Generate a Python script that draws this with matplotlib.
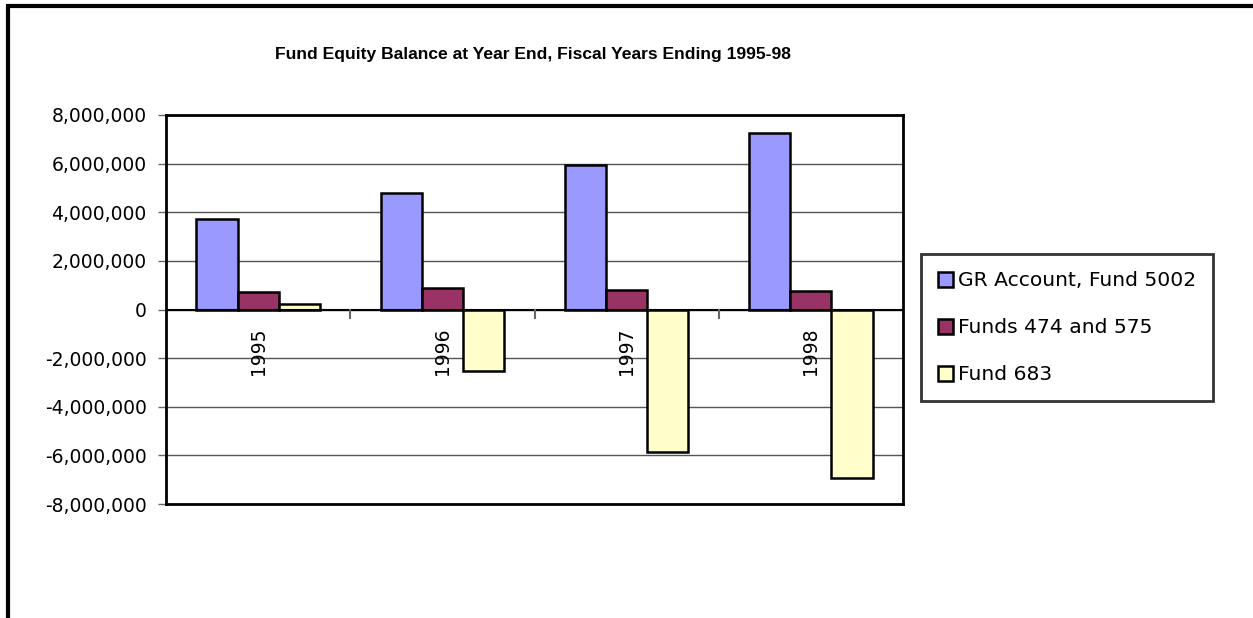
import numpy as np
import matplotlib; matplotlib.use("Agg")
import matplotlib.pyplot as plt
from matplotlib.patches import Rectangle, Patch

years = ["1995", "1996", "1997", "1998"]
gr_5002 = [3710000, 4800000, 5950000, 7240000]
funds_474_575 = [700000, 870000, 820000, 780000]
fund_683 = [220000, -2520000, -5880000, -6950000]
series = ["GR Account, Fund 5002", "Funds 474 and 575", "Fund 683"]
yticks = [-8000000, -6000000, -4000000, -2000000, 0, 2000000, 4000000, 6000000, 8000000]

C_BLUE, C_RED, C_YEL = "#9999FF", "#993366", "#FFFFCC"
FONT = "DejaVu Sans"

fig = plt.figure(figsize=(12.53, 6.18), dpi=100)
# outer frame of the embedded chart (runs off right/bottom)
fig.patches.append(Rectangle((8 / 1253, -0.05), 1.1, 1 - 6 / 618 + 0.05, transform=fig.transFigure,
                             fill=False, ec="black", lw=3))

ax = fig.add_axes([166 / 1253, 1 - 504 / 618, (903 - 166) / 1253, (504 - 115) / 618])
x = np.arange(len(years)); w = 0.223
for k, (vals, col) in enumerate(zip([gr_5002, funds_474_575, fund_683], [C_BLUE, C_RED, C_YEL])):
    ax.bar(x + (k - 1) * w, vals, w, color=col, ec="black", lw=1.8, zorder=3)

ax.set_xlim(-0.5, len(years) - 0.5)
ax.set_ylim(-8000000, 8000000)
ax.set_yticks(yticks)
ax.set_yticklabels([f"{v:,}" for v in yticks], fontsize=13.5, family=FONT)
ax.tick_params(axis="y", length=6, width=1, color="#666666", pad=8)
ax.yaxis.grid(True, color="#555555", lw=1, zorder=0)
ax.set_xticks([])
for s in ax.spines.values():
    s.set_linewidth(2)
ax.axhline(0, color="black", lw=1.5, zorder=4)
# separators between categories on the zero line
for b in x[1:] - 0.5:
    ax.plot([b, b], [0, -350000], color="#666666", lw=1.5, zorder=4)
for xi, yr in zip(x, years):
    ax.annotate(yr, (xi, 0), xytext=(0, -13), textcoords="offset points", rotation=90,
                ha="center", va="top", fontsize=13.5, family=FONT)

fig.text(533 / 1253, 1 - 55 / 618, "Fund Equity Balance at Year End, Fiscal Years Ending 1995-98",
         ha="center", va="center", fontsize=12.6, fontweight="bold", family="Liberation Sans")

handles = [Patch(fc=c, ec="black", lw=1.8) for c in [C_BLUE, C_RED, C_YEL]]
lg = fig.legend(handles, series, loc="upper left", bbox_to_anchor=(921 / 1253, 1 - 254 / 618),
                prop={"family": FONT, "size": 14.6}, frameon=True, fancybox=False,
                handlelength=0.75, handleheight=0.75, handletextpad=0.2, labelspacing=1.38,
                borderpad=0.85, borderaxespad=0)
lg.get_frame().set_edgecolor("black"); lg.get_frame().set_linewidth(2)

fig.savefig("out.png", dpi=100)
